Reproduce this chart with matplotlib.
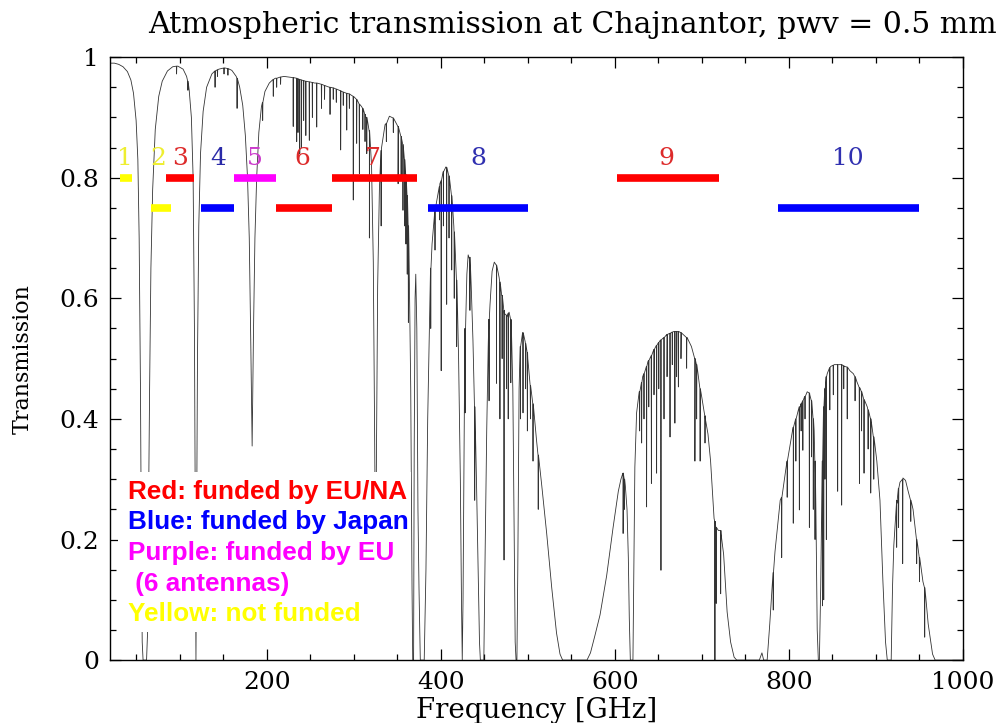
import numpy as np
import matplotlib.pyplot as plt
from matplotlib.patches import Rectangle
from matplotlib.ticker import MultipleLocator, FixedLocator, FixedFormatter

# Smooth envelope of the transmission curve (frequency in GHz, transmission)
env_freq = [20, 25, 30, 35, 40, 44, 47, 50, 52, 53.5, 55, 56, 57, 58, 62, 63, 64, 65.5, 67, 69,
            72, 76, 80, 86, 92, 98, 104, 108, 111, 113.5, 115.5, 117, 118.3, 118.75, 119.2, 120.5,
            122, 124, 127, 131, 137, 145, 152, 160, 165, 169, 172.5, 175.5, 178, 180, 181.8, 183.3,
            184.8, 186.5, 188.5, 191, 194, 198, 203, 210, 220, 230, 240, 255, 270, 285, 296, 303,
            309, 314, 318, 320.5, 322.5, 324, 325.15, 326.3, 327.5, 329.5, 332, 336, 341, 346, 351,
            355, 358.5, 361, 363.5, 365.5, 367, 367.8, 368.8, 369.5, 370.5, 371.3, 372.5, 373.8,
            375, 376.5, 381, 383, 385, 387.5, 390, 394, 399, 403, 406, 409, 412, 415, 418, 420.5,
            422.5, 423.8, 424.7, 425.6, 426.8, 428.5, 430, 431.5, 433, 435, 437, 439, 441, 443,
            444.5, 445.5, 449.5, 451, 452.8, 454.5, 456.6, 459, 461.5, 464, 467, 470, 473, 476,
            478.5, 481, 482.8, 484.3, 485.5, 486.5, 487.5, 488.5, 490, 491.5, 494, 497, 500, 504.5,
            510, 516, 521.7, 527.5, 533, 537, 540, 568, 572, 577, 583, 590.6, 598, 604, 607, 609.5,
            612, 614, 615.5, 616.6, 617.8, 620.8, 621.6, 623, 625, 628, 632, 638, 645, 652, 660,
            668, 676, 683, 688, 692, 696, 700, 704, 707, 710, 712.5, 714, 716, 719, 722, 725, 729,
            733, 737, 740, 766, 769, 771, 775, 778, 781, 784, 790, 798, 805, 813, 818, 821, 824,
            826.5, 829, 831, 832.5, 833.8, 835, 836.5, 838, 839.5, 842, 844, 848, 852, 858, 864,
            870, 874, 878, 882, 886, 890, 894, 897, 901, 904.6, 908, 911, 913, 917.5, 919, 920.5,
            924, 927.6, 931, 934, 937, 942.6, 948, 954, 960, 965, 968, 1000]
env_trans = [0.990, 0.990, 0.988, 0.984, 0.976, 0.962, 0.940, 0.895, 0.830, 0.70, 0.45, 0.20, 0.03,
             0.0, 0.0, 0.04, 0.20, 0.45, 0.65, 0.78, 0.88, 0.935, 0.96, 0.977, 0.984, 0.985, 0.980,
             0.968, 0.945, 0.90, 0.80, 0.55, 0.12, 0.0, 0.12, 0.50, 0.72, 0.84, 0.91, 0.95, 0.972,
             0.980, 0.982, 0.978, 0.968, 0.950, 0.92, 0.87, 0.80, 0.70, 0.52, 0.355, 0.54, 0.70,
             0.80, 0.875, 0.918, 0.943, 0.957, 0.965, 0.968, 0.966, 0.962, 0.957, 0.951, 0.944,
             0.938, 0.930, 0.918, 0.90, 0.875, 0.82, 0.66, 0.38, 0.14, 0.38, 0.62, 0.78, 0.85,
             0.888, 0.902, 0.898, 0.885, 0.865, 0.83, 0.78, 0.68, 0.45, 0.12, 0.0, 0.0, 0.35, 0.60,
             0.64, 0.55, 0.25, 0.12, 0.0, 0.0, 0.15, 0.40, 0.60, 0.69, 0.75, 0.79, 0.81, 0.818,
             0.805, 0.775, 0.72, 0.63, 0.50, 0.30, 0.10, 0.0, 0.10, 0.35, 0.55, 0.64, 0.672, 0.665,
             0.62, 0.53, 0.42, 0.30, 0.15, 0.03, 0.0, 0.0, 0.18, 0.38, 0.52, 0.59, 0.645, 0.66,
             0.655, 0.635, 0.605, 0.575, 0.57, 0.577, 0.56, 0.45, 0.22, 0.03, 0.0, 0.0, 0.15, 0.45,
             0.52, 0.543, 0.528, 0.50, 0.44, 0.365, 0.29, 0.21, 0.12, 0.045, 0.01, 0.0, 0.0, 0.012,
             0.04, 0.075, 0.14, 0.22, 0.28, 0.30, 0.31, 0.29, 0.25, 0.17, 0.07, 0.0, 0.0, 0.12,
             0.32, 0.41, 0.445, 0.47, 0.495, 0.515, 0.53, 0.540, 0.545, 0.543, 0.535, 0.52, 0.50,
             0.47, 0.435, 0.40, 0.375, 0.33, 0.27, 0.235, 0.22, 0.215, 0.21, 0.175, 0.08, 0.03,
             0.005, 0.0, 0.0, 0.012, 0.0, 0.0, 0.06, 0.13, 0.18, 0.265, 0.33, 0.386, 0.42, 0.437,
             0.445, 0.44, 0.425, 0.38, 0.25, 0.05, 0.0, 0.0, 0.12, 0.30, 0.40, 0.455, 0.475, 0.487,
             0.49, 0.49, 0.487, 0.48, 0.475, 0.462, 0.45, 0.432, 0.42, 0.40, 0.37, 0.33, 0.265,
             0.13, 0.03, 0.0, 0.0, 0.12, 0.19, 0.265, 0.295, 0.302, 0.298, 0.28, 0.25, 0.19, 0.13,
             0.06, 0.01, 0.0, 0.0]

# Narrow absorption lines: centre (GHz), local continuum, line floor
line_freq = [96.5, 109.5, 140.7, 143.5, 151, 155.5, 166.0,
             195.4, 207.6, 211.5, 216, 230.5, 234.5, 236, 238, 240, 242.5, 245, 249, 252.5, 257.5,
             263, 266.5, 272.8, 276.5, 280, 285, 288, 292, 295, 299.5, 303.4, 306.5, 310.5, 313,
             315, 318,
             331.5, 337.5, 345.5, 351, 354.5, 356.6, 358.5, 360, 361.5, 362.8,
             388.5, 393.4, 398.5, 400.5, 403, 406.8, 409.5, 412.6, 415.5, 418.3,
             428, 433.5, 439,
             455.5, 464, 468, 470.5, 472.7, 475.5, 477.5, 480.5,
             491.5, 494.5, 497.5, 499.5, 503, 506, 512,
             609.5, 611,
             628.5, 630.8, 633.5, 636.5, 639, 642, 645, 648, 650.5, 653, 656.5, 660, 663.4, 666,
             669, 671, 673, 676, 682.5, 692, 694, 698, 703.6, 715, 716.5, 721.6,
             782, 791.7, 798, 805, 808, 812, 814, 816, 818.5, 823.5, 826, 828, 830,
             838.5, 840, 841.4, 843, 847, 851, 856, 860.6, 863, 867, 876, 881, 883.5, 886.3, 891,
             894, 897.5,
             923.8, 926, 930.7, 940, 946.8, 950, 956]
line_top = [0.985, 0.960, 0.977, 0.979, 0.982, 0.981, 0.965,
            0.925, 0.963, 0.965, 0.967, 0.966, 0.965, 0.964, 0.963, 0.962, 0.961, 0.960, 0.959,
            0.958, 0.957, 0.955, 0.953, 0.950, 0.949, 0.947, 0.944, 0.942, 0.940, 0.939, 0.935,
            0.930, 0.922, 0.915, 0.905, 0.900, 0.878,
            0.845, 0.890, 0.899, 0.885, 0.868, 0.855, 0.830, 0.805, 0.770, 0.720,
            0.650, 0.745, 0.785, 0.795, 0.810, 0.817, 0.803, 0.770, 0.710, 0.630,
            0.550, 0.668, 0.420,
            0.565, 0.655, 0.627, 0.605, 0.580, 0.572, 0.575, 0.565,
            0.520, 0.543, 0.525, 0.510, 0.455, 0.425, 0.340,
            0.310, 0.300,
            0.445, 0.460, 0.475, 0.487, 0.497, 0.505, 0.515, 0.522, 0.527, 0.531, 0.535, 0.540,
            0.542, 0.544, 0.545, 0.545, 0.545, 0.543, 0.535, 0.500, 0.490, 0.450, 0.405, 0.230,
            0.220, 0.215,
            0.145, 0.270, 0.330, 0.386, 0.400, 0.420, 0.425, 0.430, 0.437, 0.443, 0.430, 0.400,
            0.330,
            0.330, 0.420, 0.450, 0.470, 0.485, 0.489, 0.490, 0.490, 0.488, 0.486, 0.470, 0.452,
            0.445, 0.432, 0.415, 0.400, 0.370,
            0.260, 0.285, 0.300, 0.265, 0.200, 0.170, 0.120]
line_floor = [0.972, 0.945, 0.950, 0.968, 0.972, 0.970, 0.915,
              0.895, 0.935, 0.950, 0.955, 0.885, 0.860, 0.875, 0.840, 0.850, 0.895, 0.870, 0.862,
              0.900, 0.884, 0.915, 0.930, 0.905, 0.930, 0.925, 0.846, 0.920, 0.879, 0.915, 0.763,
              0.857, 0.807, 0.880, 0.860, 0.840, 0.700,
              0.720, 0.860, 0.875, 0.790, 0.800, 0.746, 0.720, 0.690, 0.640, 0.560,
              0.550, 0.680, 0.730, 0.480, 0.720, 0.590, 0.700, 0.647, 0.600, 0.520,
              0.410, 0.580, 0.265,
              0.430, 0.459, 0.400, 0.500, 0.166, 0.450, 0.400, 0.460,
              0.400, 0.410, 0.450, 0.380, 0.400, 0.330, 0.250,
              0.210, 0.250,
              0.380, 0.360, 0.400, 0.254, 0.420, 0.293, 0.440, 0.310, 0.450, 0.149, 0.400, 0.470,
              0.370, 0.490, 0.393, 0.470, 0.453, 0.500, 0.484, 0.330, 0.400, 0.330, 0.360, 0.0,
              0.094, 0.110,
              0.083, 0.170, 0.270, 0.227, 0.330, 0.249, 0.380, 0.348, 0.400, 0.220, 0.337, 0.250,
              0.200,
              0.090, 0.100, 0.300, 0.200, 0.415, 0.440, 0.280, 0.257, 0.450, 0.400, 0.430, 0.293,
              0.380, 0.310, 0.350, 0.277, 0.300,
              0.187, 0.220, 0.160, 0.230, 0.160, 0.130, 0.038]

# ALMA receiver bands
band_names = ['1', '2', '3', '4', '5', '6', '7', '8', '9', '10']
band_lo = [31, 67, 84, 125, 163, 211, 275, 385, 602, 787]
band_hi = [45, 90, 116, 163, 211, 275, 373, 500, 720, 950]
band_level = [0.80, 0.75, 0.80, 0.75, 0.80, 0.75, 0.80, 0.75, 0.80, 0.75]
band_label_freq = [37, 76, 100, 144, 186, 241, 322, 443, 659, 868]
band_colors = ['#ffff00', '#ffff00', '#ff0000', '#0000ff', '#ff00ff',
               '#ff0000', '#ff0000', '#0000ff', '#ff0000', '#0000ff']
label_colors = ['#eeee30', '#eeee30', '#dd2a2a', '#2a2aa8', '#cc3ccc',
                '#dd2a2a', '#dd2a2a', '#3030b0', '#dd2a2a', '#3030b0']

legend_text = ['Red: funded by EU/NA', 'Blue: funded by Japan', 'Purple: funded by EU',
               ' (6 antennas)', 'Yellow: not funded']
legend_colors = ['#ff0000', '#0000ff', '#ff00ff', '#ff00ff', '#ffff00']

y_ticks = [0, 0.2, 0.4, 0.6, 0.8, 1.0]
y_tick_labels = ['0', '0.2', '0.4', '0.6', '0.8', '1']
x_ticks = [200, 400, 600, 800, 1000]
x_tick_labels = ['200', '400', '600', '800', '1000']

# put envelope and line profiles together into one spectrum
dw = 0.25
lf = np.array(line_freq)
freq = np.concatenate([env_freq, lf - dw, lf, lf + dw])
trans = np.concatenate([env_trans, line_top, line_floor, line_top])
order = np.argsort(freq, kind='stable')
freq, trans = freq[order], trans[order]

serif = 'DejaVu Serif'

fig = plt.figure(figsize=(10, 7.23), dpi=100)
ax = fig.add_axes([0.110, 0.087, 0.853, 0.834])

ax.plot(freq, trans, color='#333333', lw=0.6, zorder=2)

ax.hlines(band_level, band_lo, band_hi, colors=band_colors, lw=5.5, zorder=3)
for name, f, c in zip(band_names, band_label_freq, label_colors):
    ax.text(f, 0.832, name, color=c, fontsize=18, family=serif,
            ha='center', va='center', zorder=3)

# white panel behind the funding notes
ax.add_patch(Rectangle((0.009, 0.046), 0.344, 0.266, transform=ax.transAxes,
                       facecolor='white', edgecolor='none', zorder=4))
for i, (txt, c) in enumerate(zip(legend_text, legend_colors)):
    ax.text(0.021, 0.279 - i * 0.0507, txt, color=c, fontsize=18.8, fontweight='bold',
            family='Liberation Sans', transform=ax.transAxes, va='center', zorder=5)

ax.set_xlim(20, 1000)
ax.set_ylim(0, 1)
ax.xaxis.set_major_locator(FixedLocator(x_ticks))
ax.xaxis.set_major_formatter(FixedFormatter(x_tick_labels))
ax.xaxis.set_minor_locator(MultipleLocator(50))
ax.yaxis.set_major_locator(FixedLocator(y_ticks))
ax.yaxis.set_major_formatter(FixedFormatter(y_tick_labels))
ax.yaxis.set_minor_locator(MultipleLocator(0.05))
ax.tick_params(which='both', direction='in', top=True, right=True, width=0.9)
ax.tick_params(which='major', length=8, labelsize=18, pad=8)
ax.tick_params(which='minor', length=4.5)
for lab in ax.get_xticklabels() + ax.get_yticklabels():
    lab.set_family(serif)
for s in ax.spines.values():
    s.set_linewidth(1.0)

ax.set_xlabel('Frequency [GHz]', fontsize=20, family=serif, labelpad=2)
ax.set_ylabel('Transmission', fontsize=16, family=serif)
ax.yaxis.set_label_coords(-0.089, 0.5)
fig.text(0.572, 0.966, 'Atmospheric transmission at Chajnantor, pwv = 0.5 mm',
         fontsize=21.5, family=serif, ha='center', va='center')

fig.savefig('out.png', dpi=100)
